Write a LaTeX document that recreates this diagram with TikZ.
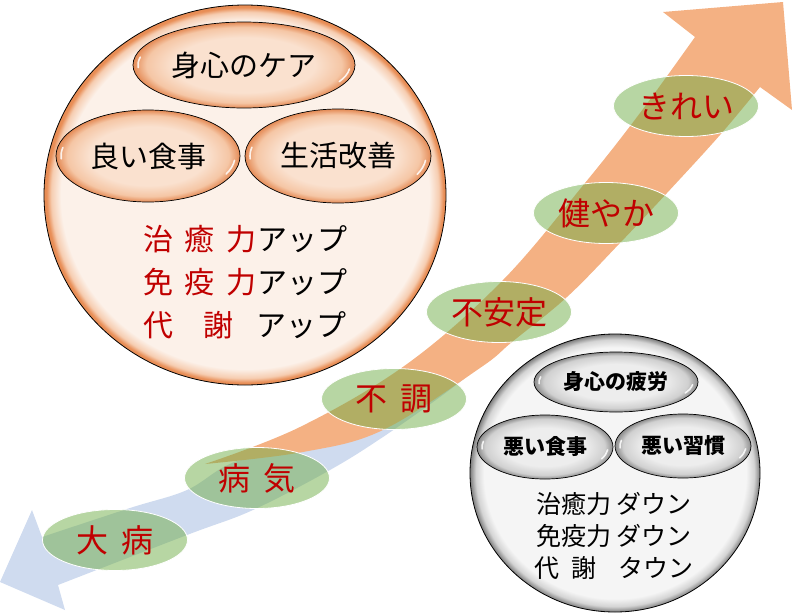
\documentclass[tikz,border=0pt]{standalone}
\usepackage{fontspec}
\setmainfont{Noto Sans CJK JP}
\usetikzlibrary{shapes.geometric}

\definecolor{bandorange}{HTML}{F4B183}
\definecolor{bandblue}{HTML}{CFDBEF}
\definecolor{stepgreen}{HTML}{70AD47}
\definecolor{wordred}{HTML}{C00000}
\definecolor{peachin}{HTML}{FCF1E9}
\definecolor{peachmid}{HTML}{F6CDB1}
\definecolor{peachrim}{HTML}{E88D55}
\definecolor{ovalin}{HTML}{FAE1CF}
\definecolor{ovalmid}{HTML}{F5C6A5}
\definecolor{ovalrim}{HTML}{E48A55}
\definecolor{grayin}{HTML}{F5F5F5}
\definecolor{graymid}{HTML}{D4D4D4}
\definecolor{grayrim}{HTML}{7E7E7E}
\definecolor{govalin}{HTML}{EDEDED}
\definecolor{govalmid}{HTML}{D0D0D0}
\definecolor{govalrim}{HTML}{8C8C8C}

\pgfdeclareradialshading{peachdisc}{\pgfpointorigin}{color(0bp)=(peachin); color(22.9bp)=(peachin); color(24.1bp)=(peachmid); color(24.7bp)=(peachrim); color(25bp)=(peachrim); color(50bp)=(peachrim)}
\pgfdeclareradialshading{peachegg}{\pgfpointorigin}{color(0bp)=(ovalin); color(16bp)=(ovalin); color(22bp)=(ovalmid); color(25bp)=(ovalrim); color(50bp)=(ovalrim)}
\pgfdeclareradialshading{graydisc}{\pgfpointorigin}{color(0bp)=(grayin); color(22.6bp)=(grayin); color(24bp)=(graymid); color(25bp)=(grayrim); color(50bp)=(grayrim)}
\pgfdeclareradialshading{grayegg}{\pgfpointorigin}{color(0bp)=(govalin); color(15bp)=(govalin); color(22bp)=(govalmid); color(25bp)=(govalrim); color(50bp)=(govalrim)}

\tikzset{
  ball/.style={ellipse, inner sep=0pt, draw=black, line width=.8pt},
  egg/.style={ellipse, inner sep=0pt, draw=black, line width=.7pt},
  greenoval/.style={ellipse, minimum width=145pt, minimum height=61pt, inner sep=0pt,
    fill=stepgreen, fill opacity=.5, text opacity=1, draw=white, line width=.8pt,
    text=wordred, font=\fontsize{32}{32}\selectfont},
  gloss/.style={white, line width=1.6pt, line cap=round, opacity=.85}
}

\begin{document}
\begin{tikzpicture}[x=1pt, y=-1pt]
  \useasboundingbox (0,0) rectangle (796,616);

  % downward band
  \fill[bandblue] plot[smooth, tension=.6] coordinates {(478,368) (440,397) (383,437) (330,470) (253,510) (187,535) (58,585)}
    -- (65,610) -- (0,582) -- (32,510) -- (42,537)
    -- plot[smooth, tension=.6] coordinates {(42,537) (130,508) (187,490) (232,463) (300,444) (400,398) (478,368)} -- cycle;

  % upward band
  \fill[bandorange] plot[smooth, tension=.6] coordinates {(205,464) (300,427) (407,364) (503,280) (585,183) (640,113) (695,37)}
    -- (663,12) -- (783,2) -- (792,110) -- (760,87)
    -- plot[smooth, tension=.6] coordinates {(760,87) (720,135) (667,193) (620,243) (567,297) (512,342) (480,368) (383,430) (303,452) (205,464)} -- cycle;

  % good side
  \node[ball, shading=peachdisc, minimum width=402pt, minimum height=380pt] (goodball) at (245,195) {};
  \node[egg, shading=peachegg, minimum width=222pt, minimum height=86pt, font=\fontsize{29}{29}\selectfont] (care) at (244,65) {身心のケア};
  \node[egg, shading=peachegg, minimum width=184pt, minimum height=92pt, font=\fontsize{29}{29}\selectfont] (food) at (148,156) {良い食事};
  \node[egg, shading=peachegg, minimum width=186pt, minimum height=94pt, font=\fontsize{29}{29}\selectfont] (life) at (338,156) {生活改善};
  \node[align=center, font=\fontsize{30}{43}\selectfont] (goodtext) at (245,282)
    {{\color{wordred}治\hspace{.4em}癒\hspace{.4em}力}アップ\\
     {\color{wordred}免\hspace{.4em}疫\hspace{.4em}力}アップ\\
     {\color{wordred}代\hspace{1em}謝}\hspace{.75em}アップ};

  % bad side
  \node[ball, shading=graydisc, minimum width=290pt, minimum height=278pt] (badball) at (615,473) {};
  \node[egg, shading=grayegg, minimum width=164pt, minimum height=60pt, font=\fontsize{21}{21}\selectfont\bfseries] (tired) at (616,382) {身心の疲労};
  \node[egg, shading=grayegg, minimum width=136pt, minimum height=64pt, font=\fontsize{21}{21}\selectfont\bfseries] (badfood) at (545,447) {悪い食事};
  \node[egg, shading=grayegg, minimum width=136pt, minimum height=64pt, font=\fontsize{21}{21}\selectfont\bfseries] (badhabit) at (683,446) {悪い習慣};
  \node[align=center, font=\fontsize{25}{32}\selectfont] (badtext) at (614,536)
    {治癒力 ダウン\\免疫力 ダウン\\代\hspace{.5em}謝\hspace{.9em}タウン};

  % highlights
  \foreach \n/\rx/\ry in {care/111/43, food/92/46, life/93/47, tired/82/30, badfood/68/32, badhabit/68/32}{
    \draw[gloss] (\n.center) ++(6:{\rx-5} and {\ry-5}) arc[start angle=6, end angle=26, x radius=\rx-5, y radius=\ry-5];
    \draw[gloss] (\n.center) ++(176:{\rx-5} and {\ry-5}) arc[start angle=176, end angle=192, x radius=\rx-5, y radius=\ry-5];
  }

  % steps
  \node[greenoval] (taibyo) at (115,540) {大\hspace{.4em}病};
  \node[greenoval] (byoki) at (257,478) {病\hspace{.4em}気};
  \node[greenoval] (fucho) at (394,399) {不\hspace{.4em}調};
  \node[greenoval] (fuantei) at (499,312) {不安定};
  \node[greenoval] (sukoyaka) at (606,213) {健やか};
  \node[greenoval] (kirei) at (686,106) {きれい};
\end{tikzpicture}
\end{document}
